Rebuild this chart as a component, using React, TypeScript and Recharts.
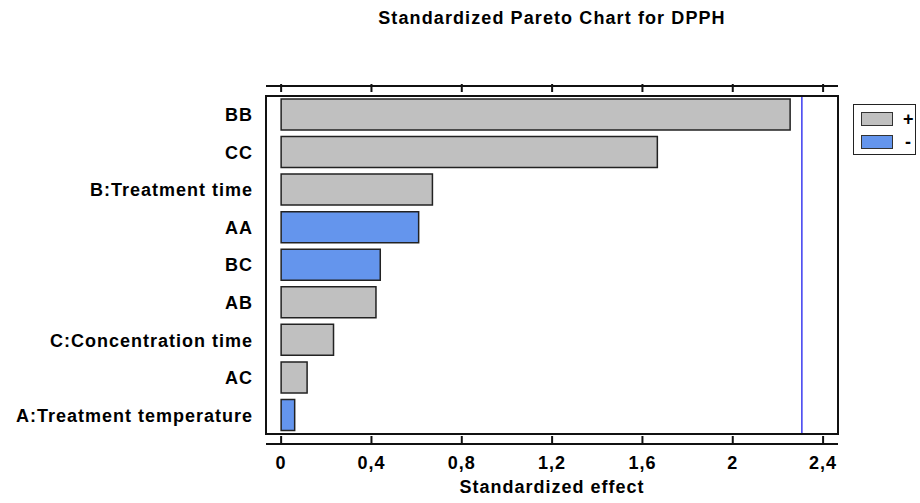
import React from 'react';
import { BarChart, Bar, XAxis, YAxis, Cell, ReferenceLine, ReferenceArea } from 'recharts';

// Effects, sorted as in the Pareto chart
const effects = [
  'BB',
  'CC',
  'B:Treatment time',
  'AA',
  'BC',
  'AB',
  'C:Concentration time',
  'AC',
  'A:Treatment temperature',
];
const effectValues = [2.254, 1.666, 0.67, 0.609, 0.439, 0.42, 0.232, 0.115, 0.06];
const effectSigns = ['+', '+', '+', '-', '-', '+', '+', '+', '-'];
const xTicks = [0, 0.4, 0.8, 1.2, 1.6, 2, 2.4];
const xDomain = [-0.067, 2.466];
const criticalValue = 2.306;
const legendItems = ['+', '-'];

const FONT = '"Liberation Sans", Arial, sans-serif';
const POS = '#c0c0c0';
const NEG = '#6495ed';
const data = effects.map((name, i) => ({ name, value: effectValues[i], sign: effectSigns[i] }));

const fmt = (v: number) => String(v).replace('.', ',');

const BottomTick = (props: any) => {
  const { x, y, payload } = props;
  return (
    <g>
      <line x1={x} x2={x} y1={y} y2={y - 8} stroke="#111" strokeWidth={2} />
      <text x={x} y={y + 25} textAnchor="middle" fontFamily={FONT} fontSize={18} fontWeight="bold"
        fill="#000" style={{ letterSpacing: '1px' }}>
        {fmt(payload.value)}
      </text>
    </g>
  );
};

const TopTick = (props: any) => {
  const { x, y } = props;
  return <line x1={x} x2={x} y1={y} y2={y + 8} stroke="#111" strokeWidth={2} />;
};

const LeftTick = (props: any) => {
  const { x, y, payload } = props;
  return (
    <text x={x} y={y} dy="0.36em" textAnchor="end" fontFamily={FONT} fontSize={18} fontWeight="bold"
      fill="#000" style={{ letterSpacing: '1px' }}>
      {payload.value}
    </text>
  );
};

export default function App() {
  return (
    <div style={{ position: 'absolute', left: 0, top: 0, width: 920, height: 503, background: '#fff', fontFamily: FONT }}>
      <div style={{
        position: 'absolute', left: 266, width: 572, top: 9, textAlign: 'center',
        fontSize: 18, lineHeight: '18px', fontWeight: 'bold', letterSpacing: '1.1px',
      }}>
        Standardized Pareto Chart for DPPH
      </div>

      <BarChart width={920} height={503} data={data} layout="vertical"
        margin={{ top: 85, right: 82, bottom: 0, left: 0 }} style={{ position: 'absolute', left: 0, top: 0 }}>
        <XAxis xAxisId="top" orientation="top" type="number" domain={xDomain} ticks={xTicks}
          allowDataOverflow height={1} axisLine={{ stroke: '#111', strokeWidth: 2 }} tickLine={false}
          tickSize={0} tick={<TopTick />} />
        <XAxis type="number" domain={xDomain} ticks={xTicks} allowDataOverflow height={59}
          axisLine={{ stroke: '#111', strokeWidth: 2 }} tickLine={false} tickSize={0} tickMargin={0}
          tick={<BottomTick />}
          label={{ value: 'Standardized effect', position: 'insideBottom', offset: 10, fill: '#000',
            fontSize: 18, fontWeight: 'bold', fontFamily: FONT, style: { letterSpacing: '1px' } }} />
        <YAxis type="category" dataKey="name" width={266} axisLine={false} tickLine={false}
          tickSize={0} tickMargin={13} tick={<LeftTick />} interval={0} padding={{ top: 10, bottom: 10 }} />
        <Bar dataKey="value" barSize={31} stroke="#222" strokeWidth={1.5} isAnimationActive={false}>
          {data.map((d, i) => (
            <Cell key={`cell-${i}`} fill={d.sign === '+' ? POS : NEG} />
          ))}
        </Bar>
        <ReferenceLine x={criticalValue} stroke="#3b3bf0" strokeWidth={1.5}
          shape={(p: any) => (
            <line x1={p.x1} x2={p.x2} y1={Math.min(p.y1, p.y2) + 11} y2={Math.max(p.y1, p.y2) - 11}
              stroke="#3b3bf0" strokeWidth={1.5} />
          )} />
        <ReferenceArea x1={xDomain[0]} x2={xDomain[1]} fill="none" stroke="#111" strokeWidth={2}
          fillOpacity={0} ifOverflow="visible" />
      </BarChart>

      <div style={{
        position: 'absolute', left: 853, top: 104, width: 63, height: 51,
        border: '1px solid #222', boxSizing: 'border-box',
      }}>
        {legendItems.map((s, i) => (
          <div key={s} style={{ position: 'absolute', left: 7, top: 7 + i * 22.5, height: 14, display: 'flex', alignItems: 'center' }}>
            <div style={{
              width: 32, height: 14, boxSizing: 'border-box', border: '1.5px solid #333',
              background: s === '+' ? POS : NEG,
            }} />
            <span style={{ marginLeft: 10 + (s === '-' ? 2 : 0), fontSize: 18, fontWeight: 'bold', lineHeight: '14px' }}>{s}</span>
          </div>
        ))}
      </div>
    </div>
  );
}
